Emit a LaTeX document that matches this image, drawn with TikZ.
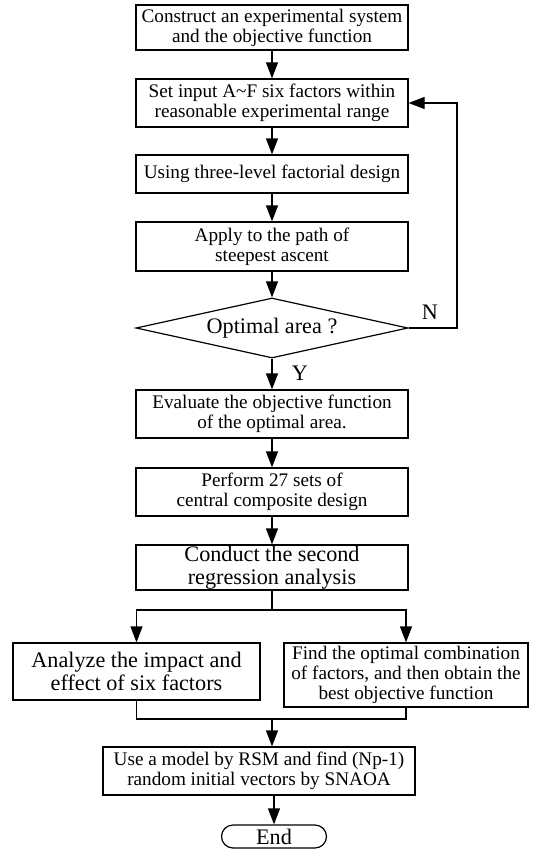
\documentclass[tikz,border=0pt]{standalone}
\usepackage{fontspec}
\setmainfont{Liberation Serif}
\usetikzlibrary{arrows.meta,shapes.geometric}

\begin{document}
\begin{tikzpicture}[x=0.5pt, y=-0.5pt, line width=0.6pt,
	every node/.style={font=\fontsize{9.6}{10}\selectfont, align=center, inner sep=0pt},
	box/.style={draw, minimum width=136pt, minimum height=24pt},
	big/.style={font=\fontsize{11.1}{11.5}\selectfont},
	>={Triangle[length=8pt, width=6pt]}]
	\useasboundingbox (0,0) rectangle (532,856);
	\node[box, minimum height=22.5pt] (construct) at (272,27.5) {Construct an experimental system\\and the objective function};
	\node[box] (setinput) at (272,103) {Set input A\textasciitilde F six factors within\\reasonable experimental range};
	\node[box, minimum height=19pt] (factorial) at (272,174) {Using three-level factorial design};
	\node[box, minimum height=24.5pt] (ascent) at (272,246.5) {Apply to the path of\\steepest ascent};
	\node[draw, big, diamond, aspect=4.5, minimum width=136pt, minimum height=30pt] (optimal) at (272,328) {Optimal area ?};
	\node[box] (evaluate) at (272,414) {Evaluate the objective function\\of the optimal area.};
	\node[box] (composite) at (272,492) {Perform 27 sets of\\central composite design};
	\node[box, big, minimum height=22.5pt] (regression) at (272,567.5) {Conduct the second\\regression analysis};
	\node[box, big, minimum width=123.5pt, minimum height=28.5pt] (impact) at (136.5,671.5) {Analyze the impact and\\effect of six factors};
	\node[box, minimum width=122pt, minimum height=32pt] (combination) at (406,675) {Find the optimal combination\\of factors, and then obtain the\\best objective function};
	\node[box, minimum width=156pt] (model) at (259,771) {Use a model by RSM and find (Np-1)\\random initial vectors by SNAOA};
	\node[draw, big, rounded corners=5.75pt, minimum width=52.5pt, minimum height=11.5pt] (finish) at (274,836.5) {End};
	\node[big] (yes) at (300,373) {Y};
	\node[big] (no) at (430,312) {N};
	% main column
	\foreach \a/\b in {construct/setinput, setinput/factorial, factorial/ascent, ascent/optimal,
		optimal/evaluate, evaluate/composite, composite/regression}
		\draw[->] (\a) -- (\b);
	% loop back when the area is not optimal
	\coordinate (loop) at (457,0);
	\draw[->] (optimal.east) -| (loop |- setinput.east) -- (setinput.east);
	% branch and merge
	\coordinate (split) at (272,610);
	\coordinate (merge) at (272,719);
	\draw (regression.south) -- (split);
	\draw[->] (split) -| (impact.north);
	\draw[->] (split) -| (combination.north);
	\draw (impact.south) |- (merge);
	\draw (combination.south) |- (merge);
	\draw[->] (merge) -- (merge |- model.north);
	\draw[->] (finish |- model.south) -- (finish);
\end{tikzpicture}
\end{document}
